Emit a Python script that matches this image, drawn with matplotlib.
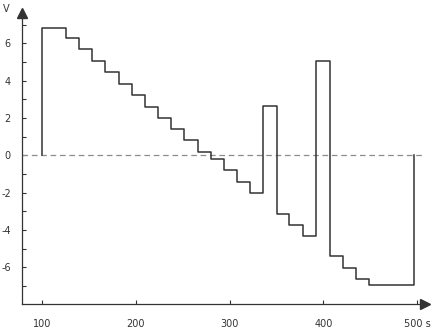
import matplotlib
matplotlib.use("Agg")
import matplotlib.pyplot as plt

plt.rcParams["axes.unicode_minus"] = False

# switching times (s) and the voltage level held after each switch (V)
step_times = [100, 125.3, 139.2, 153.1, 166.9, 181.9, 195.8, 209.6, 223.2, 237.4,
              251.6, 265.7, 279.8, 293.7, 307.5, 322.1, 336.1, 350.2, 363.7, 378.0,
              392.2, 406.8, 420.7, 434.9, 448.8, 497.1]
step_levels = [6.80, 6.27, 5.68, 5.05, 4.46, 3.84, 3.23, 2.60, 2.01, 1.39,
               0.80, 0.16, -0.20, -0.80, -1.43, -2.00, 2.62, -3.13, -3.73, -4.34,
               5.05, -5.38, -6.02, -6.61, -6.95, 0.0]

x_ticks = [100, 200, 300, 400, 500]
x_labels = ["100", "200", "300", "400", "500 s"]
y_ticks = [-6, -4, -2, 0, 2, 4, 6]
y_minor = [-7, -5, -3, -1, 1, 3, 5, 7]

line_col = "#333333"
text_col = "#333333"

fig = plt.figure(figsize=(4.36, 3.30), dpi=100)
ax = fig.add_axes([0, 0, 1, 1])
ax.set_xlim(54.8, 520.3)
ax.set_ylim(-9.36, 8.32)
ax.patch.set_alpha(0)

x_axis_at = 78.3
y_axis_at = -7.95

# step signal: start from 0, hold each level, jump back to 0 at the end
xs = [step_times[0]] + step_times
ys = [0.0] + step_levels
ax.plot(xs, ys, drawstyle="steps-post", color=line_col, lw=1.1, zorder=3)

# zero reference
ax.plot([x_axis_at, 507], [0, 0], color="#8c8c8c", lw=0.9, dashes=(4.5, 3), zorder=2)

# axes with arrows
for s in ["top", "right"]:
    ax.spines[s].set_visible(False)
ax.spines["left"].set_position(("data", x_axis_at))
ax.spines["bottom"].set_position(("data", y_axis_at))
ax.spines["left"].set_bounds(y_axis_at, 7.5)
ax.spines["bottom"].set_bounds(x_axis_at, 505)
for s in ["left", "bottom"]:
    ax.spines[s].set_color(line_col)
    ax.spines[s].set_linewidth(0.9)
ax.plot(x_axis_at, 7.62, marker="^", markersize=7, color=line_col, clip_on=False)
ax.plot(509, y_axis_at, marker=">", markersize=7, color=line_col, clip_on=False)

ax.set_xticks(x_ticks)
ax.set_xticklabels(x_labels)
ax.set_yticks(y_ticks)
ax.set_yticks(y_minor, minor=True)
ax.tick_params(axis="both", which="both", direction="in", length=3, width=0.8,
               color=line_col, labelcolor=text_col, labelsize=7)
ax.tick_params(axis="x", pad=11)
ax.tick_params(axis="y", pad=8)

fig.text(3 / 436, 1 - 9 / 330, "V", fontsize=7, color=text_col, va="center", ha="left")

fig.savefig("out.png", dpi=100)
